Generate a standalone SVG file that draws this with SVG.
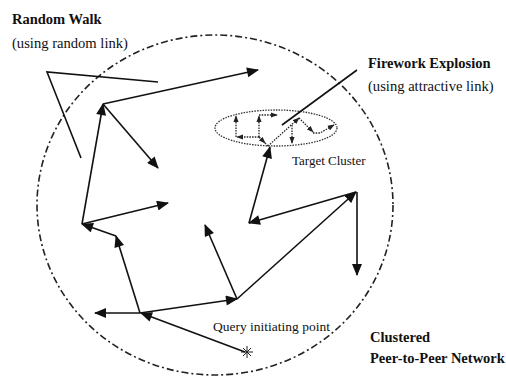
<svg xmlns="http://www.w3.org/2000/svg" width="506" height="377" viewBox="0 0 506 377">
<defs>
<marker id="ah" viewBox="0 0 12 10" refX="11" refY="5" markerWidth="13" markerHeight="10" markerUnits="userSpaceOnUse" orient="auto">
<path d="M0,0 L12,5 L0,10 z" fill="#111"/>
</marker>
<marker id="sh" viewBox="0 0 8 6" refX="7" refY="3" markerWidth="7" markerHeight="6" markerUnits="userSpaceOnUse" orient="auto">
<path d="M0,0 L8,3 L0,6 z" fill="#222"/>
</marker>
</defs>
<style>
.bold{font-family:"Liberation Serif","Times New Roman",serif;font-weight:bold;font-size:14.5px;fill:#111}
.reg{font-family:"Liberation Serif","Times New Roman",serif;font-size:14.6px;fill:#111}
.small{font-family:"Liberation Serif","Times New Roman",serif;font-size:13px;fill:#111}
.sol{fill:none;stroke:#111;stroke-width:1.6}
.arr{fill:none;stroke:#111;stroke-width:1.6;marker-end:url(#ah)}
.dot{fill:none;stroke:#333;stroke-width:1.3;stroke-dasharray:1.5 1.2}
.darr{fill:none;stroke:#222;stroke-width:1.3;stroke-dasharray:1.5 1.2;marker-end:url(#sh)}
</style>
<rect width="506" height="377" fill="#fff"/>
<g id="network">
<ellipse cx="215" cy="205" rx="178" ry="170" fill="none" stroke="#222" stroke-width="1.6" stroke-dasharray="7 3 2 3"/>
</g>
<g id="target-cluster">
<ellipse cx="276" cy="128" rx="61" ry="18" class="dot"/>
<text x="292" y="165" class="small">Target Cluster</text>
</g>
<g id="query-point">
<path d="M243,348 L251,356 M243,356 L251,348 M241,352 L253,352 M247,346 L247,358" stroke="#222" stroke-width="1" fill="none"/>
<text x="213" y="331" class="small" style="font-size:13.5px">Query initiating point</text>
</g>
<g id="label-random">
<text x="12" y="24" class="bold">Random Walk</text>
<text x="12" y="48" class="reg">(using random link)</text>
</g>
<g id="label-firework">
<text x="368" y="68" class="bold">Firework Explosion</text>
<text x="368" y="91" class="reg">(using attractive link)</text>
</g>
<g id="label-network">
<text x="370" y="342" class="bold">Clustered</text>
<text x="370" y="363" class="bold">Peer-to-Peer Network</text>
</g>
<g id="connectors">
<path class="sol" d="M158,82 L47,72 L81,158"/>
<path class="sol" d="M282,125 L357,70"/>
<path class="arr" d="M245,352 L141,313"/>
<path class="arr" d="M140,313 L95,313"/>
<path class="arr" d="M140,313 L116,236"/>
<path class="arr" d="M116,236 L82,224"/>
<path class="arr" d="M82,224 L103,104"/>
<path class="arr" d="M82,224 L168,203"/>
<path class="arr" d="M103,104 L258,70"/>
<path class="arr" d="M103,104 L158,168"/>
<path class="arr" d="M140,313 L237,299"/>
<path class="arr" d="M237,299 L205,225"/>
<path class="arr" d="M237,299 L356,192"/>
<path class="arr" d="M357,192 L357,275"/>
<path class="arr" d="M356,192 L249,223"/>
<path class="arr" d="M249,223 L270,147"/>
<path class="darr" d="M268,146 L299,118"/>
<path class="darr" d="M299,118 L313,132"/>
<path class="darr" d="M313,133 L320,133 L334,125"/>
<path class="darr" d="M292,125 L292,143"/>
<path class="dot" d="M268,146 L259,137"/>
<path class="darr" d="M259,137 L265,143"/>
<path class="darr" d="M259,137 L237,137"/>
<path class="darr" d="M236,137 L236,116"/>
<path class="darr" d="M259,137 L259,116"/>
<path class="darr" d="M259,115 L277,115"/>
</g>
</svg>
